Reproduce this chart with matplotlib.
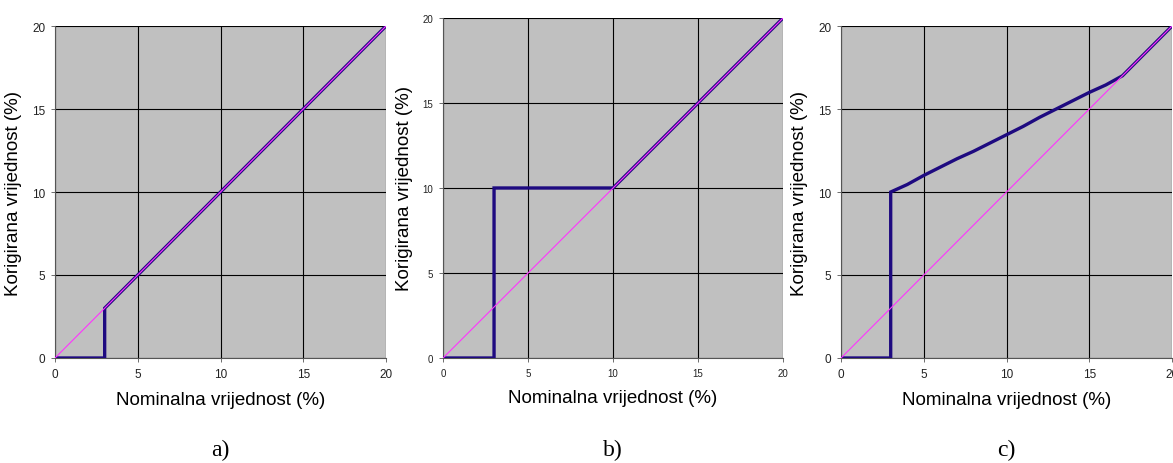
import matplotlib
matplotlib.use("Agg")
import matplotlib.pyplot as plt

# nominal vs corrected values (%) for the three panels
ref_x = [0, 20]
ref_y = [0, 20]

a_x = [0, 3, 3, 20]
a_y = [0, 0, 3, 20]

b_x = [0, 3, 3, 10, 20]
b_y = [0, 0, 10, 10, 20]

c_x = [0, 3, 3, 4, 5, 6, 7, 8, 9, 10, 11, 12, 13, 14, 15, 16, 17, 20]
c_y = [0, 0, 10, 10.45, 11.0, 11.5, 12.0, 12.45, 12.95, 13.45, 13.95, 14.5, 15.0, 15.5, 16.0, 16.45, 17.0, 20]

ticks = [0, 5, 10, 15, 20]
captions = ["a)", "b)", "c)"]

fig = plt.figure(figsize=(11.73, 4.64), dpi=100)
positions = [
    [0.0469, 0.2263, 0.2822, 0.7155],
    [0.3777, 0.2263, 0.2899, 0.7328],
    [0.7170, 0.2263, 0.2822, 0.7155],
]
tick_sizes = [8.5, 7, 8.5]
series = [(a_x, a_y), (b_x, b_y), (c_x, c_y)]

for pos, (xs, ys), cap, ts in zip(positions, series, captions, tick_sizes):
    ax = fig.add_axes(pos)
    ax.set_facecolor("#c0c0c0")
    ax.plot(xs, ys, color="#1e0a80", lw=2.4, solid_joinstyle="miter", zorder=3)
    ax.plot(ref_x, ref_y, color="#ff33ff", lw=0.8, zorder=4)
    ax.set_xlim(0, 20)
    ax.set_ylim(0, 20)
    ax.set_xticks(ticks)
    ax.set_yticks(ticks)
    ax.grid(True, color="black", lw=0.8, zorder=1)
    ax.set_axisbelow(True)
    for s in ["top", "right"]:
        ax.spines[s].set_visible(False)
    for s in ["left", "bottom"]:
        ax.spines[s].set_color("#555555")
        ax.spines[s].set_linewidth(0.8)
    ax.tick_params(labelsize=ts, length=3, width=0.6, color="#555555",
                   labelcolor="#222222", pad=4)
    for lab in ax.get_xticklabels() + ax.get_yticklabels():
        lab.set_family("Liberation Sans")
    ax.set_xlabel("Nominalna vrijednost (%)", fontsize=13.5, family="Liberation Sans", labelpad=8)
    ax.set_ylabel("Korigirana vrijednost (%)", fontsize=13.5, family="Liberation Sans", labelpad=7)
    x0 = pos[0] + pos[2] / 2
    fig.text(x0, 0.03, cap, ha="center", va="center", fontsize=17, family="Liberation Serif")

fig.savefig("out.png", dpi=100, facecolor="white")
